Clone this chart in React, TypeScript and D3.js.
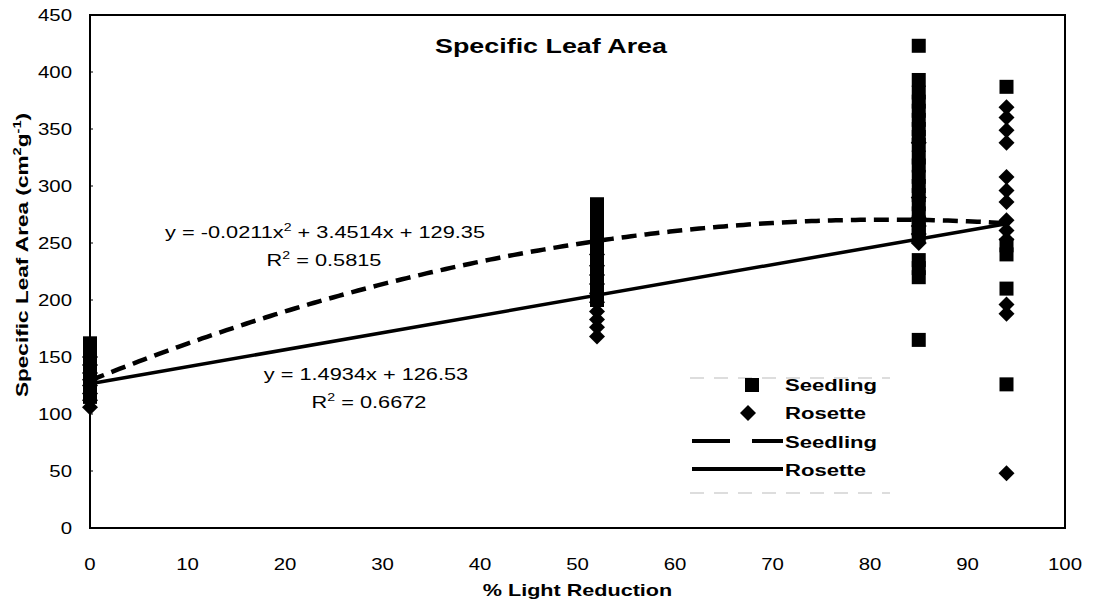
import React from "react";
import * as d3 from "d3";

// Light reduction levels (%) and specific leaf area observations (cm2 g-1)
const seedlingX0 = [162, 155, 148, 140, 133, 126, 120, 115];
const rosetteX0 = [150, 143, 136, 130, 125, 118, 112, 106];
const seedlingX52 = [284, 276, 268, 260, 252, 245, 238, 230, 222, 215, 208, 200];
const rosetteX52 = [240, 230, 222, 214, 206, 198, 190, 183, 176, 168];
const seedlingX85 = [423, 393, 382, 374, 366, 358, 350, 343, 336, 325, 318, 308, 300, 292, 284, 276, 268, 262, 256, 235, 228, 220, 165];
const rosetteX85 = [338, 290, 272, 265, 258, 250];
const seedlingX94 = [387, 248, 240, 210, 126];
const rosetteX94 = [369, 360, 349, 338, 308, 296, 286, 270, 261, 253, 196, 188, 48];

const seedlingGroups: [number, number[]][] = [
  [0, seedlingX0],
  [52, seedlingX52],
  [85, seedlingX85],
  [94, seedlingX94],
];
const rosetteGroups: [number, number[]][] = [
  [0, rosetteX0],
  [52, rosetteX52],
  [85, rosetteX85],
  [94, rosetteX94],
];

// Trendline coefficients as printed on the chart
const seedlingQuad = [-0.0211, 3.4514, 129.35];
const rosetteLin = [1.4934, 126.53];

const xTicks = [0, 10, 20, 30, 40, 50, 60, 70, 80, 90, 100];
const yTicks = [0, 50, 100, 150, 200, 250, 300, 350, 400, 450];
const legendLabels = ["Seedling", "Rosette", "Seedling", "Rosette"];

const W = 1095;
const H = 603;
const M = { left: 90, right: 1065, top: 15, bottom: 528 };
const FONT = "'Liberation Sans', Arial, sans-serif";

// Text drawn with a horizontally widened face
function T({
  x,
  y,
  sx = 1.25,
  rotate = 0,
  anchor = "start",
  size = 17,
  bold = false,
  dy,
  children,
}: {
  x: number;
  y: number;
  sx?: number;
  rotate?: number;
  anchor?: string;
  size?: number;
  bold?: boolean;
  dy?: string;
  children: React.ReactNode;
}) {
  return (
    <g transform={`translate(${x},${y}) rotate(${rotate}) scale(${sx},1)`}>
      <text
        x={0}
        y={0}
        dy={dy}
        textAnchor={anchor as any}
        fontFamily={FONT}
        fontWeight={bold ? "bold" : "normal"}
        fontSize={size}
        fill="#000"
      >
        {children}
      </text>
    </g>
  );
}

export default function App() {
  const x = d3.scaleLinear().domain([0, 100]).range([M.left, M.right]);
  const y = d3.scaleLinear().domain([0, 450]).range([M.bottom, M.top]);

  const fitXs = d3.range(0, 94.01, 0.5);
  const line = d3
    .line<[number, number]>()
    .x((d) => x(d[0]))
    .y((d) => y(d[1]));
  const seedlingFit = fitXs.map(
    (v) => [v, seedlingQuad[0] * v * v + seedlingQuad[1] * v + seedlingQuad[2]] as [number, number]
  );
  const rosetteFit = [0, 94].map((v) => [v, rosetteLin[0] * v + rosetteLin[1]] as [number, number]);

  const sq = 14;
  const dm = 8;
  const diamond = (cx: number, cy: number) =>
    `M${cx},${cy - dm}L${cx + dm},${cy}L${cx},${cy + dm}L${cx - dm},${cy}Z`;

  const sup = (s: string) => (
    <>
      <tspan fontSize={11} dy={-7}>
        {s}
      </tspan>
    </>
  );

  return (
    <svg width={W} height={H} style={{ position: "absolute", left: 0, top: 0, background: "#fff" }}>
      <rect x={0} y={0} width={W} height={H} fill="#fff" />
      {/* plot frame */}
      <rect
        x={M.left}
        y={M.top}
        width={M.right - M.left}
        height={M.bottom - M.top}
        fill="none"
        stroke="#000"
        strokeWidth={2}
      />
      {/* y ticks */}
      {yTicks.map((t) => (
        <g key={"y" + t}>
          <line x1={M.left} x2={M.left + 3} y1={y(t)} y2={y(t)} stroke="#000" strokeWidth={1} />
          <T x={72} y={y(t)} dy="0.36em" anchor="end" sx={1.2}>
            {t}
          </T>
        </g>
      ))}
      {/* x ticks */}
      {xTicks.map((t) => (
        <T key={"x" + t} x={x(t)} y={570} anchor="middle" sx={1.2}>
          {t}
        </T>
      ))}
      <T x={(M.left + M.right) / 2} y={596} anchor="middle" bold size={17} sx={1.27}>
        % Light Reduction
      </T>
      <T x={28} y={255} rotate={-90} anchor="middle" bold size={17} sx={1.33}>
        Specific Leaf Area (cm{sup("2")}
        <tspan dy={7}>g</tspan>
        {sup("-1")}
        <tspan dy={7}>)</tspan>
      </T>
      <T x={551} y={53} anchor="middle" bold size={21} sx={1.28}>
        Specific Leaf Area
      </T>

      {/* data points */}
      {seedlingGroups.map(([gx, vals]) =>
        vals.map((v, i) => (
          <rect key={`s${gx}-${i}`} x={x(gx) - sq / 2} y={y(v) - sq / 2} width={sq} height={sq} fill="#000" />
        ))
      )}
      {rosetteGroups.map(([gx, vals]) =>
        vals.map((v, i) => <path key={`r${gx}-${i}`} d={diamond(x(gx), y(v))} fill="#000" />)
      )}

      {/* trendlines */}
      <path d={line(seedlingFit) ?? ""} fill="none" stroke="#000" strokeWidth={4.5} strokeDasharray="15 8" />
      <path d={line(rosetteFit) ?? ""} fill="none" stroke="#000" strokeWidth={3.5} />

      {/* equations */}
      <T x={325} y={238} anchor="middle" sx={1.28}>
        y = -0.0211x{sup("2")}
        <tspan dy={7}> + 3.4514x + 129.35</tspan>
      </T>
      <T x={324} y={266} anchor="middle" sx={1.28}>
        R{sup("2")}
        <tspan dy={7}> = 0.5815</tspan>
      </T>
      <T x={366} y={380} anchor="middle" sx={1.28}>
        y = 1.4934x + 126.53
      </T>
      <T x={369} y={408} anchor="middle" sx={1.28}>
        R{sup("2")}
        <tspan dy={7}> = 0.6672</tspan>
      </T>

      {/* legend */}
      <g>
        <line x1={690} x2={890} y1={378} y2={378} stroke="#bbb" strokeWidth={1} strokeDasharray="14 10" />
        <line x1={690} x2={890} y1={493} y2={493} stroke="#bbb" strokeWidth={1} strokeDasharray="14 10" />
        <rect x={752 - 7} y={385 - 7} width={14} height={14} fill="#000" />
        <path d={diamond(748, 413)} fill="#000" />
        <line x1={692} x2={783} y1={441} y2={441} stroke="#000" strokeWidth={4} strokeDasharray="38 22" />
        <line x1={692} x2={783} y1={469} y2={469} stroke="#000" strokeWidth={4} />
        {legendLabels.map((label, i) => (
          <T key={i} x={785} y={385 + i * 28.3} dy="0.36em" bold sx={1.3}>
            {label}
          </T>
        ))}
      </g>
    </svg>
  );
}
